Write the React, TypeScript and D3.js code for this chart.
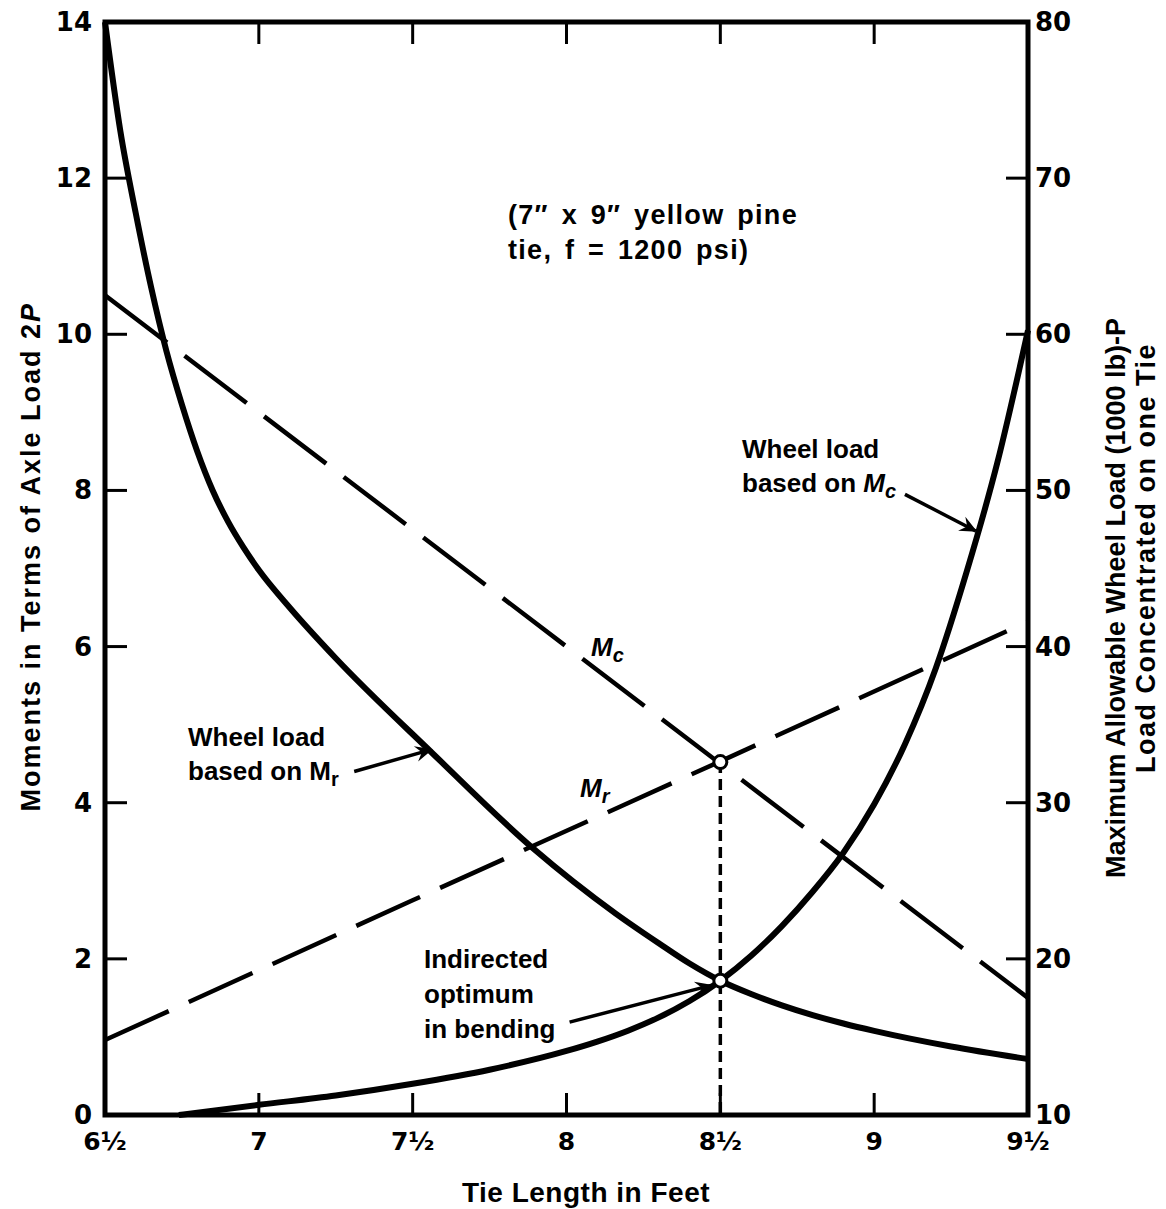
import React from 'react';
import * as d3 from 'd3';

// axis ticks
const tieTicks = [6.5, 7, 7.5, 8, 8.5, 9, 9.5];
const tieTickLabels = ['6½', '7', '7½', '8', '8½', '9', '9½'];
const momentTicks = [0, 2, 4, 6, 8, 10, 12, 14];
const wheelLoadTicks = [10, 20, 30, 40, 50, 60, 70, 80];

// M_c and M_r (moments, left axis)
const mcLength = [6.5, 7.5, 8.5, 9.5];
const mcValue = [10.5, 7.5, 4.5, 1.5];
const mrLength = [6.5, 7.5, 8.5, 9.5];
const mrValue = [0.96, 2.75, 4.53, 6.32];

// wheel load based on M_r (read on the left scale)
const wlMrLength = [6.5, 6.55, 6.6, 6.65, 6.7, 6.75, 6.8, 6.85, 6.9, 6.95, 7.0, 7.1, 7.25, 7.56, 7.89, 8.16, 8.3, 8.4, 8.5, 8.6, 8.7, 8.8, 8.9, 9.0, 9.25, 9.5];
const wlMrValue = [14, 12.6, 11.55, 10.6, 9.78, 9.1, 8.5, 8.0, 7.6, 7.27, 6.98, 6.5, 5.85, 4.65, 3.42, 2.58, 2.2, 1.94, 1.72, 1.55, 1.405, 1.28, 1.172, 1.077, 0.877, 0.717];

// wheel load based on M_c (read on the left scale)
const wlMcLength = [6.74, 7.0, 7.25, 7.5, 7.75, 8.0, 8.1, 8.2, 8.3, 8.4, 8.5, 8.6, 8.7, 8.8, 8.9, 9.0, 9.1, 9.2, 9.3, 9.4, 9.5];
const wlMcValue = [0, 0.13, 0.25, 0.4, 0.58, 0.82, 0.94, 1.08, 1.25, 1.46, 1.72, 2.04, 2.42, 2.86, 3.36, 3.98, 4.75, 5.72, 6.95, 8.35, 10.05];

// optimum tie length
const optimumLength = 8.5;
const optimumPoints = [4.52, 1.72];

const font = '"Liberation Sans", Arial, sans-serif';
const numFont = '"DejaVu Sans", sans-serif';

const App = () => {
  const width = 1166;
  const height = 1209;
  const margin = { top: 22, right: 138, bottom: 94, left: 105 };
  const x0 = margin.left;
  const x1 = width - margin.right;
  const y0 = height - margin.bottom;
  const y1 = margin.top;

  const x = d3.scaleLinear().domain([6.5, 9.5]).range([x0, x1]);
  const y = d3.scaleLinear().domain([0, 14]).range([y0, y1]);
  const yR = d3.scaleLinear().domain([10, 80]).range([y0, y1]);

  const straight = d3
    .line<[number, number]>()
    .x((d) => x(d[0]))
    .y((d) => y(d[1]));
  const smooth = d3
    .line<[number, number]>()
    .x((d) => x(d[0]))
    .y((d) => y(d[1]))
    .curve(d3.curveMonotoneX);

  const zip = (a: number[], b: number[]) => a.map((v, i) => [v, b[i]] as [number, number]);

  const tickLen = 22;
  const txt = { fontFamily: font, fontWeight: 700, fill: '#000' } as const;
  const num = { fontFamily: numFont, fontWeight: 700, fill: '#000' } as const;

  const arrow = (fx: number, fy: number, tx: number, ty: number) => (
    <line
      x1={x(fx)}
      y1={y(fy)}
      x2={x(tx)}
      y2={y(ty)}
      stroke="#000"
      strokeWidth={3.5}
      markerEnd="url(#head)"
    />
  );

  return (
    <svg
      width={width}
      height={height}
      style={{ position: 'absolute', left: 0, top: 0, background: '#fff' }}
    >
      <defs>
        <marker id="head" viewBox="0 0 10 10" refX="9" refY="5" markerWidth="7" markerHeight="5" orient="auto" markerUnits="strokeWidth">
          <path d="M0,0.5 L10,5 L0,9.5 L3.5,5 z" fill="#000" />
        </marker>
      </defs>

      {/* frame */}
      <rect x={x0} y={y1} width={x1 - x0} height={y0 - y1} fill="none" stroke="#000" strokeWidth={5} />

      {/* x ticks top and bottom */}
      {tieTicks.slice(1, -1).map((t) => (
        <g key={'xt' + t}>
          <line x1={x(t)} x2={x(t)} y1={y1} y2={y1 + tickLen} stroke="#000" strokeWidth={3} />
          <line x1={x(t)} x2={x(t)} y1={y0} y2={y0 - tickLen} stroke="#000" strokeWidth={3} />
        </g>
      ))}
      {tieTicks.map((t, i) => (
        <text key={'xl' + t} x={x(t)} y={y0 + 35} textAnchor="middle" fontSize={25} {...num}>
          {tieTickLabels[i]}
        </text>
      ))}

      {/* left ticks */}
      {momentTicks.slice(1, -1).map((t) => (
        <line key={'yt' + t} x1={x0} x2={x0 + tickLen} y1={y(t)} y2={y(t)} stroke="#000" strokeWidth={3} />
      ))}
      {momentTicks.map((t) => (
        <text key={'yl' + t} x={x0 - 13} y={y(t) + 9} textAnchor="end" fontSize={26} {...num}>
          {t}
        </text>
      ))}

      {/* right ticks */}
      {wheelLoadTicks.slice(1, -1).map((t) => (
        <line key={'rt' + t} x1={x1} x2={x1 - tickLen} y1={yR(t)} y2={yR(t)} stroke="#000" strokeWidth={3} />
      ))}
      {wheelLoadTicks.map((t) => (
        <text key={'rl' + t} x={x1 + 7} y={yR(t) + 9} textAnchor="start" fontSize={26} {...num}>
          {t}
        </text>
      ))}

      {/* moment lines */}
      <path d={straight(zip(mcLength, mcValue)) || ''} fill="none" stroke="#000" strokeWidth={4.5} strokeDasharray="78 22" />
      <path d={straight(zip(mrLength, mrValue)) || ''} fill="none" stroke="#000" strokeWidth={4.5} strokeDasharray="70 22" />

      {/* wheel load curves */}
      <path d={smooth(zip(wlMrLength, wlMrValue)) || ''} fill="none" stroke="#000" strokeWidth={6} />
      <path d={smooth(zip(wlMcLength, wlMcValue)) || ''} fill="none" stroke="#000" strokeWidth={6} />

      {/* optimum drop line and points */}
      <line
        x1={x(optimumLength)}
        x2={x(optimumLength)}
        y1={y(optimumPoints[0])}
        y2={y0}
        stroke="#000"
        strokeWidth={3.5}
        strokeDasharray="11 6"
      />
      {optimumPoints.map((v) => (
        <circle key={'op' + v} cx={x(optimumLength)} cy={y(v)} r={6.5} fill="#fff" stroke="#000" strokeWidth={3} />
      ))}

      {/* annotations */}
      <text x={508} y={224} fontSize={27} letterSpacing={1.3} wordSpacing={4} {...txt}>(7″ x 9″ yellow pine</text>
      <text x={508} y={259} fontSize={27} letterSpacing={1.3} wordSpacing={4} {...txt}>tie, f = 1200 psi)</text>

      <text x={742} y={458} fontSize={26} {...txt}>Wheel load</text>
      <text x={742} y={492} fontSize={26} {...txt}>
        based on <tspan fontStyle="italic">M</tspan>
        <tspan fontStyle="italic" fontSize={20} dy={6}>c</tspan>
      </text>
      {arrow(9.1, 7.95, 9.33, 7.48)}

      <text x={188} y={746} fontSize={26} {...txt}>Wheel load</text>
      <text x={188} y={780} fontSize={26} {...txt}>
        based on M<tspan fontSize={20} dy={6}>r</tspan>
      </text>
      {arrow(7.31, 4.4, 7.56, 4.68)}

      <text x={591} y={656} fontSize={26} fontStyle="italic" {...txt}>
        M<tspan fontSize={20} dy={6}>c</tspan>
      </text>
      <text x={580} y={797} fontSize={26} fontStyle="italic" {...txt}>
        M<tspan fontSize={20} dy={6}>r</tspan>
      </text>

      <text x={424} y={968} fontSize={26} {...txt}>Indirected</text>
      <text x={424} y={1003} fontSize={26} {...txt}>optimum</text>
      <text x={424} y={1038} fontSize={26} {...txt}>in bending</text>
      {arrow(8.01, 1.19, 8.47, 1.66)}

      {/* axis titles */}
      <text x={586} y={1202} textAnchor="middle" fontSize={28} letterSpacing={0.5} {...txt}>
        Tie Length in Feet
      </text>
      <text
        transform={`translate(40, ${y(7.15)}) rotate(-90)`}
        textAnchor="middle"
        fontSize={27}
        letterSpacing={2}
        {...txt}
      >
        Moments in Terms of Axle Load 2<tspan fontStyle="italic">P</tspan>
      </text>
      <text
        transform={`translate(1125, 598) rotate(-90)`}
        textAnchor="middle"
        fontSize={27}
        {...txt}
      >
        Maximum Allowable Wheel Load (1000 lb)-P
      </text>
      <text
        transform={`translate(1155, 558) rotate(-90)`}
        textAnchor="middle"
        fontSize={27}
        letterSpacing={1.5}
        {...txt}
      >
        Load Concentrated on one Tie
      </text>
    </svg>
  );
};

export default App;
